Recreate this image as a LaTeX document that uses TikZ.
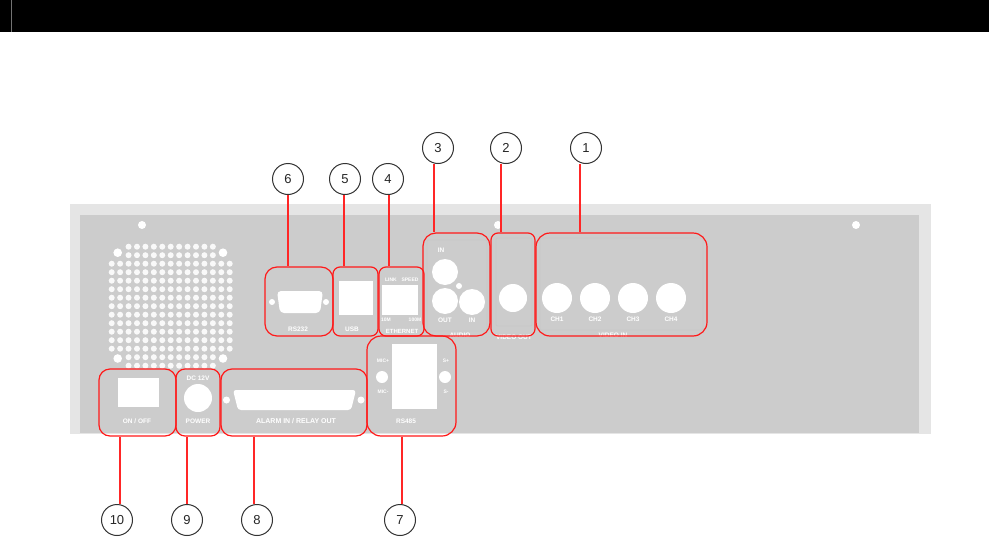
\documentclass[tikz,border=0pt]{standalone}
\usepackage{fontspec}
\setmainfont{Liberation Sans}
\tikzset{
  redbox/.style={draw=red!90!white,line width=1.2pt,inner sep=0pt,fill=none},
  lead/.style={draw=red!85!white,line width=1.2pt},
  num/.style={circle,draw=black!80,line width=1pt,minimum size=31pt,inner sep=0pt,font=\fontsize{13}{13}\selectfont,text=black!85},
  wh/.style={fill=white,draw=none},
  tiny/.style={text=white,font=\bfseries\fontsize{6.5}{7}\selectfont,inner sep=0pt},
  tinier/.style={text=white,font=\bfseries\fontsize{5}{6}\selectfont,inner sep=0pt},
  subtle/.style={draw=black!22,line width=.8pt,fill=none,rounded corners=1pt}
}
\begin{document}
\begin{tikzpicture}[x=1pt,y=-1pt]
\useasboundingbox (0,0) rectangle (989,549);
\fill[white] (0,0) rectangle (989,549);
\fill[black] (0,0) rectangle (989,32);
\fill[black!55] (10.5,0) rectangle (12,32);
% chassis
\fill[black!10] (70,204) rectangle (931,434);
\fill[black!20] (80,215) rectangle (919,433);
% screws
\foreach \p in {(142,225),(498,225),(856,225)} \fill[wh] \p circle (4);
% fan grille
\foreach \r in {0,...,14}{
  \foreach \c in {0,...,14}{
    \pgfmathtruncatemacro{\skipdot}{((\r<2 || \r>12) && (\c<2 || \c>12)) ? 1 : 0}
    \ifnum\skipdot=0
      \fill[white!95!gray] ({111.7+8.43*\c},{246.7+8.5*\r}) circle (3);
    \fi
  }
}
\foreach \p in {(117.7,252.7),(223,252.7),(117.7,358.5),(223,358.5)} \fill[wh] \p circle (4.3);
% subtle panels
\draw[subtle] (427,240) rectangle (487,331);
\draw[subtle] (496,238) rectangle (532,326);
\draw[subtle] (540,238) rectangle (703,330);
% RS232
\fill[wh,rounded corners=4pt] (277,291) -- (323,291) -- (320,313) -- (280,313) -- cycle;
\foreach \x in {272,326} \fill[wh] (\x,302) circle (3);
\node[tiny] (t6) at (298,329) {RS232};
% USB
\fill[wh] (339,281) rectangle (373,315);
\node[tiny] (t5) at (352,329) {USB};
% Ethernet
\fill[wh] (382,285) rectangle (418,315);
\node[tinier] (t4a) at (391,280) {LINK};
\node[tinier] (t4b) at (410,280) {SPEED};
\node[tinier] (t4c) at (386,320) {10M};
\node[tinier] (t4d) at (415,320) {100M};
\node[tinier,font=\bfseries\fontsize{6}{7}\selectfont] (t4) at (402,331) {ETHERNET};
% Audio
\foreach \p in {(445,272),(445,301),(472,302)} \fill[wh] \p circle (13);
\fill[wh] (459,286) circle (3);
\node[tiny] (t3a) at (441,250) {IN};
\node[tiny] (t3b) at (445,320) {OUT};
\node[tiny] (t3c) at (472,320) {IN};
\node[tiny] (t3) at (460,335) {AUDIO};
% Video out
\fill[wh] (513,298) circle (14);
\node[tiny] (t2) at (514,337) {VIDEO OUT};
% Video in
\foreach \x/\l in {557/CH1,595/CH2,633/CH3,671/CH4}{
  \fill[wh] (\x,298) circle (15);
  \node[tiny] at (\x,319) {\l};
}
\node[tiny] (t1) at (613,335) {VIDEO IN};
% On/off
\fill[wh] (118,378) rectangle (159,407);
\node[tiny] (t10) at (137,421) {ON / OFF};
% Power
\node[tiny] (t9a) at (198,378) {DC 12V};
\fill[wh] (198,398) circle (14);
\node[tiny] (t9) at (198,421) {POWER};
% Alarm
\fill[wh,rounded corners=3pt] (233,390) -- (356,390) -- (351,410) -- (238,410) -- cycle;
\foreach \x in {226.5,361} \fill[wh] (\x,400) circle (3.5);
\node[tiny,font=\bfseries\fontsize{7}{7}\selectfont] (t8) at (296,421) {ALARM IN / RELAY OUT};
% RS block
\fill[wh] (392,344) rectangle (437,409);
\foreach \x in {382,445} \fill[wh] (\x,377) circle (6);
\node[tinier] (t7a) at (383,361) {MIC+};
\node[tinier] (t7b) at (383,392) {MIC-};
\node[tinier] (t7c) at (446,361) {S+};
\node[tinier] (t7d) at (446,392) {S-};
\node[tiny] (t7) at (406,421) {RS485};
% red boxes
\node[redbox,rounded corners=14pt,minimum width=171pt,minimum height=103pt] (b1) at (621.5,284.5) {};
\node[redbox,rounded corners=7pt,minimum width=44pt,minimum height=103pt] (b2) at (513,284.5) {};
\node[redbox,rounded corners=13pt,minimum width=67pt,minimum height=103pt] (b3) at (456.5,284.5) {};
\node[redbox,rounded corners=7pt,minimum width=45pt,minimum height=69pt] (b4) at (401.5,301.5) {};
\node[redbox,rounded corners=7pt,minimum width=45pt,minimum height=69pt] (b5) at (355.5,301.5) {};
\node[redbox,rounded corners=12pt,minimum width=68pt,minimum height=69pt] (b6) at (299,301.5) {};
\node[redbox,rounded corners=14pt,minimum width=89pt,minimum height=100pt] (b7) at (411.5,386) {};
\node[redbox,rounded corners=11pt,minimum width=146pt,minimum height=67pt] (b8) at (294,402.5) {};
\node[redbox,rounded corners=9pt,minimum width=44pt,minimum height=67pt] (b9) at (198,402.5) {};
\node[redbox,rounded corners=11pt,minimum width=77pt,minimum height=67pt] (b10) at (137.5,402.5) {};
% callouts
\node[num] (c1) at (586,148) {1};
\node[num] (c2) at (506,148) {2};
\node[num] (c3) at (438,148) {3};
\node[num] (c4) at (388,179) {4};
\node[num] (c5) at (345,179) {5};
\node[num] (c6) at (288,179) {6};
\node[num] (c7) at (400,520) {7};
\node[num] (c8) at (257,520) {8};
\node[num] (c9) at (187,520) {9};
\node[num] (c10) at (117,520) {10};
% leaders
\draw[lead] (c1.south -| 580,0) -- (b1.north -| 580,0);
\draw[lead] (c2.south -| 501,0) -- (b2.north -| 501,0);
\draw[lead] (c3.south -| 434,0) -- (b3.north -| 434,0);
\draw[lead] (c4.south -| 389,0) -- (b4.north -| 389,0);
\draw[lead] (c5.south -| 344,0) -- (b5.north -| 344,0);
\draw[lead] (c6.south -| 288,0) -- (b6.north -| 288,0);
\draw[lead] (b7.south -| 402,0) -- (c7.north -| 402,0);
\draw[lead] (b8.south -| 254,0) -- (c8.north -| 254,0);
\draw[lead] (b9.south -| 187,0) -- (c9.north -| 187,0);
\draw[lead] (b10.south -| 120,0) -- (c10.north -| 120,0);
\end{tikzpicture}
\end{document}
